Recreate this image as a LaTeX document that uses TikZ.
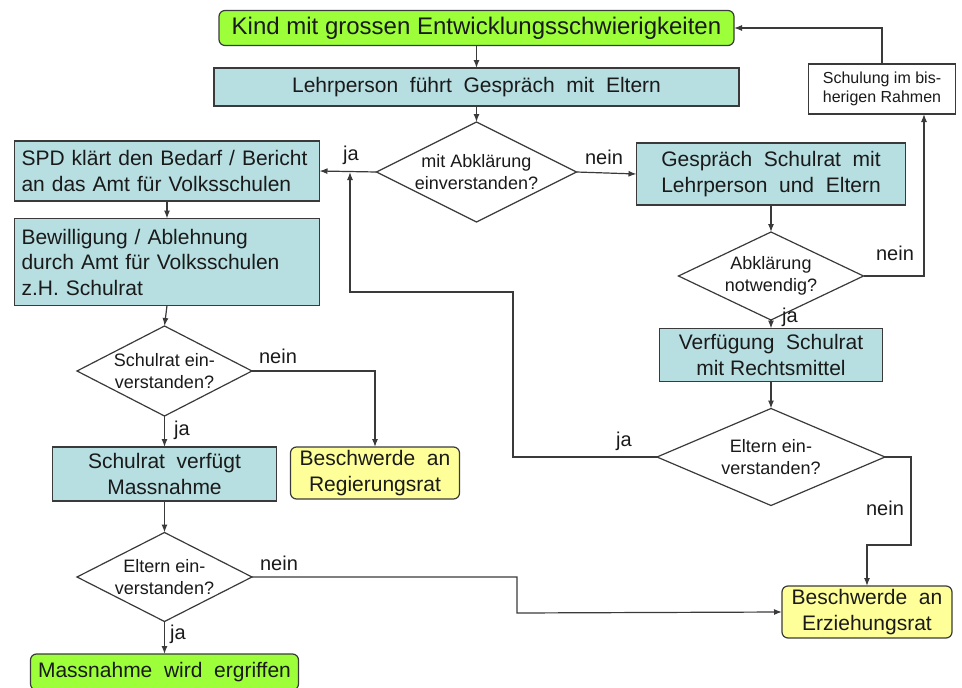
\documentclass[tikz,border=0pt]{standalone}
\usepackage{fontspec}
\setmainfont{Liberation Sans}
\usetikzlibrary{shapes.geometric,arrows.meta,positioning}
\definecolor{boxgreen}{HTML}{9CFF3A}
\definecolor{boxblue}{HTML}{B7DFE1}
\definecolor{boxyellow}{HTML}{FFFF99}
\definecolor{edge}{HTML}{3A3A3A}
\definecolor{txt}{HTML}{1A1A1A}
\tikzset{
  base/.style={draw=edge, line width=1.2pt, text=txt, inner sep=0pt, outer sep=0pt},
  greenbox/.style={base, fill=boxgreen, rounded corners=6pt},
  bluebox/.style={base, fill=boxblue},
  yellowbox/.style={base, fill=boxyellow, rounded corners=6pt},
  whitebox/.style={base, fill=white},
  dia/.style={base, fill=white, shape=diamond, aspect=2},
  dtext/.style={text=txt, align=center, font=\fontsize{18}{22}\selectfont, inner sep=0pt},
  lab/.style={text=txt, font=\fontsize{20}{24}\selectfont, inner sep=0pt},
  conn/.style={draw=edge, line width=1.2pt, -{Latex[length=8pt,width=6pt]}},
  big/.style={font=\fontsize{21}{25.5}\selectfont}
}
\begin{document}
\begin{tikzpicture}[x=1pt,y=-1pt]
\useasboundingbox (0,0) rectangle (962,688);
% boxes
\node[greenbox, minimum width=515pt, minimum height=35pt, font=\fontsize{24}{28}\selectfont] (kind) at (476.5,28) {Kind mit grossen Entwicklungsschwierigkeiten};
\node[bluebox, big, minimum width=525pt, minimum height=38pt] (lehr) at (476.5,87) {Lehrperson\ \ führt\ \ Gespräch\ \ mit\ \ Eltern};
\node[dia, minimum width=200pt, minimum height=100pt] (d1) at (476.5,172) {};
\node[dtext] (d1t) at (d1) {mit Abklärung\\einverstanden?};
\node[bluebox, big, minimum width=305pt, minimum height=60pt, text width=291pt, align=left] (spd) at (167,171) {SPD klärt den Bedarf / Bericht\\an das Amt für Volksschulen};
\node[bluebox, big, minimum width=305pt, minimum height=87pt, text width=291pt, align=left] (bew) at (167,262) {Bewilligung / Ablehnung\\durch Amt für Volksschulen\\z.H. Schulrat};
\node[dia, minimum width=175pt, minimum height=90pt] (d2) at (164.5,371) {};
\node[dtext] (d2t) at (d2) {Schulrat ein-\\verstanden?};
\node[bluebox, big, minimum width=224pt, minimum height=54pt, align=center] (verf) at (164.5,474) {Schulrat\ \ verfügt\\Massnahme};
\node[yellowbox, big, minimum width=169pt, minimum height=52pt, align=center] (reg) at (375,473) {Beschwerde\ \ an\\Regierungsrat};
\node[dia, minimum width=175pt, minimum height=89pt] (d3) at (164.5,577) {};
\node[dtext] (d3t) at (d3) {Eltern ein-\\verstanden?};
\node[greenbox, big, minimum width=268pt, minimum height=36pt] (mass) at (164.5,672) {Massnahme\ \ wird\ \ ergriffen};
\node[bluebox, big, minimum width=269pt, minimum height=62pt, align=center] (gesp) at (771,174) {Gespräch\ \ Schulrat\ \ mit\\Lehrperson\ \ und\ \ Eltern};
\node[dia, minimum width=185pt, minimum height=88pt] (d4) at (771,276) {};
\node[dtext] (d4t) at (d4) {Abklärung\\notwendig?};
\node[whitebox, minimum width=147pt, minimum height=50pt, align=left, font=\fontsize{16}{19}\selectfont] (schul) at (882,89) {Schulung im bis-\\herigen Rahmen};
\node[bluebox, big, minimum width=223pt, minimum height=53pt, align=center] (vr) at (771,355) {Verfügung\ \ Schulrat\\mit Rechtsmittel};
\node[dia, minimum width=228pt, minimum height=97pt] (d5) at (771,457) {};
\node[dtext] (d5t) at (d5) {Eltern ein-\\verstanden?};
\node[yellowbox, big, minimum width=170pt, minimum height=52pt, align=center] (erz) at (867,612) {Beschwerde\ \ an\\Erziehungsrat};
% helper coordinates
\coordinate (jajoin) at (350,172);
\coordinate (loopA) at (513,292);
\coordinate (neinA) at (911,545);
\coordinate (neinB) at (517,613);
\coordinate (schulin) at (924,114);
% connectors
\draw[conn] (kind.south) -- (lehr.north);
\draw[conn] (lehr.south) -- (d1.north);
\draw[conn] (d1.west) -- (spd.east);
\draw[conn] (d1.east) -- (gesp.west);
\draw[conn] (spd.south) -- (bew.north);
\draw[conn] (bew.south) -- (d2.north);
\draw[conn] (d2.south) -- (verf.north);
\draw[conn] (d2.east) -| (reg.north);
\draw[conn] (verf.south) -- (d3.north);
\draw[conn] (d3.south) -- (mass.north);
\draw[conn] (d3.east) -| (neinB) -- (erz.west);
\draw[conn] (gesp.south) -- (d4.north);
\draw[conn] (d4.south) -- (vr.north);
\draw[conn] (d4.east) -| (schulin);
\draw[conn] (schul.north) |- (kind.east);
\draw[conn] (vr.south) -- (d5.north);
\draw[conn] (d5.west) -| (loopA) -| (jajoin);
\draw[conn] (d5.east) -| (neinA) -| (erz.north);
% labels
\node[lab] (l1) at (351,155) {ja};
\node[lab] (l2) at (604,157) {nein};
\node[lab] (l3) at (895,253) {nein};
\node[lab] (l4) at (790,317) {ja};
\node[lab] (l5) at (278,356) {nein};
\node[lab] (l6) at (182,430) {ja};
\node[lab] (l7) at (624,441) {ja};
\node[lab] (l8) at (885,508) {nein};
\node[lab] (l9) at (279,563) {nein};
\node[lab] (l10) at (178,634) {ja};
\end{tikzpicture}
\end{document}
